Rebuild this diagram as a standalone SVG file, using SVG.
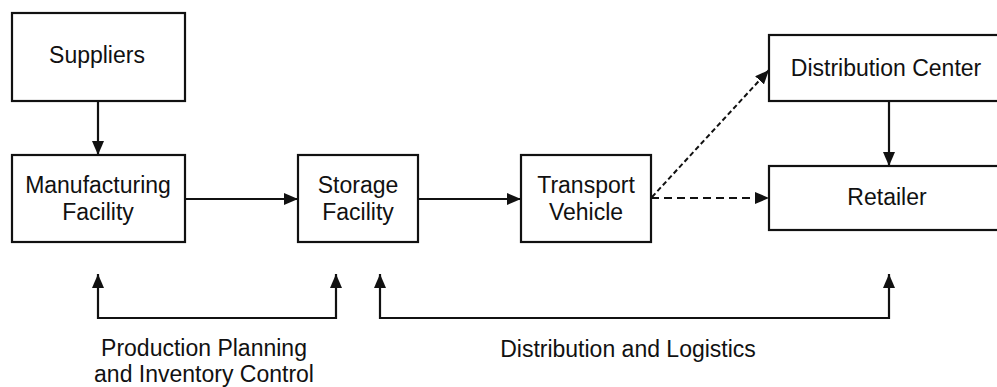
<svg xmlns="http://www.w3.org/2000/svg" width="997" height="387" viewBox="0 0 997 387">
  <style>
    .box { fill: #ffffff; stroke: #111111; stroke-width: 2.2; }
    .lbl { font-family: "Liberation Sans", Arial, Helvetica, sans-serif; font-size: 23px; fill: #111111; text-anchor: middle; }
    .conn { fill: none; stroke: #111111; stroke-width: 2.2; }
    .dash { stroke-dasharray: 8 5; }
    .dash2 { stroke-dasharray: 5 3; stroke-width: 2; }
  </style>
  <defs>
    <marker id="ah" markerUnits="userSpaceOnUse" viewBox="0 0 14 12" markerWidth="14" markerHeight="12" refX="14" refY="6" orient="auto-start-reverse">
      <path d="M0,0 L14,6 L0,12 z" fill="#111111"/>
    </marker>
  </defs>
  <rect width="997" height="387" fill="#ffffff"/>

  <g id="connectors">
    <path class="conn" d="M98,101 V155" marker-end="url(#ah)"/>
    <path class="conn" d="M185,199 H298" marker-end="url(#ah)"/>
    <path class="conn" d="M418,199 H521" marker-end="url(#ah)"/>
    <path class="conn dash" d="M651,198 H769" marker-end="url(#ah)"/>
    <path class="conn dash2" d="M652,197 L769,70" marker-end="url(#ah)"/>
    <path class="conn" d="M889,101 V166" marker-end="url(#ah)"/>
    <path class="conn" d="M98,274 V318 H336 V274" marker-start="url(#ah)" marker-end="url(#ah)"/>
    <path class="conn" d="M380,274 V318 H889 V274" marker-start="url(#ah)" marker-end="url(#ah)"/>
  </g>

  <g id="suppliers">
    <rect class="box" x="12" y="13" width="173" height="88"/>
    <text class="lbl" x="97" y="63">Suppliers</text>
  </g>
  <g id="manufacturing">
    <rect class="box" x="12" y="155" width="173" height="87"/>
    <text class="lbl" x="98" y="193">Manufacturing</text>
    <text class="lbl" x="98" y="220">Facility</text>
  </g>
  <g id="storage">
    <rect class="box" x="298" y="155" width="120" height="87"/>
    <text class="lbl" x="358" y="193">Storage</text>
    <text class="lbl" x="358" y="220">Facility</text>
  </g>
  <g id="transport">
    <rect class="box" x="521" y="155" width="130" height="87"/>
    <text class="lbl" x="586" y="193">Transport</text>
    <text class="lbl" x="586" y="220">Vehicle</text>
  </g>
  <g id="distribution-center">
    <rect class="box" x="769" y="35" width="240" height="66"/>
    <text class="lbl" x="886" y="76">Distribution Center</text>
  </g>
  <g id="retailer">
    <rect class="box" x="769" y="166" width="240" height="64"/>
    <text class="lbl" x="887" y="205">Retailer</text>
  </g>
  <g id="labels">
    <text class="lbl" x="204" y="356">Production Planning</text>
    <text class="lbl" x="204" y="382">and Inventory Control</text>
    <text class="lbl" x="628" y="357">Distribution and Logistics</text>
  </g>
</svg>
